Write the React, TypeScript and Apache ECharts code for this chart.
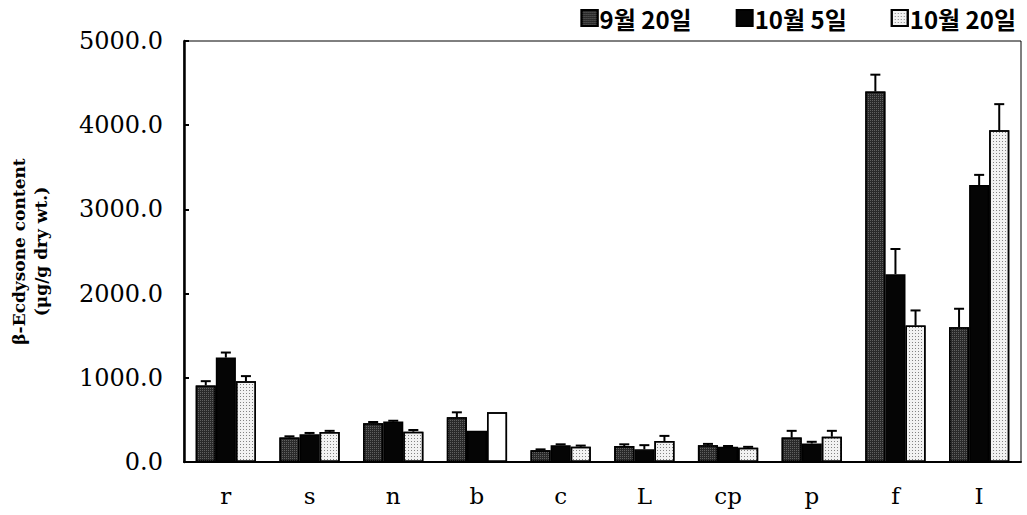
import React, { useEffect, useRef } from "react";
import * as echarts from "echarts";

const categories = ["r", "s", "n", "b", "c", "L", "cp", "p", "f", "I"];
const seriesNames = ["9월 20일", "10월 5일", "10월 20일"];
const sep20 = [910, 290, 460, 530, 140, 190, 200, 290, 4400, 1600];
const sep20Err = [50, 15, 15, 60, 10, 20, 15, 80, 200, 220];
const oct5 = [1240, 330, 480, 370, 200, 150, 180, 220, 2230, 3290];
const oct5Err = [60, 15, 10, 0, 10, 50, 10, 20, 300, 120];
const oct20 = [960, 355, 360, 590, 180, 250, 170, 300, 1620, 3940];
const oct20Err = [60, 15, 20, 0, 15, 60, 10, 70, 180, 310];
const yTicks = [0, 1000, 2000, 3000, 4000, 5000];

const GAP = 0.28;

export default function App() {
  const ref = useRef<HTMLDivElement>(null);
  useEffect(() => {
    document.body.style.margin = "0";
    const chart = echarts.init(ref.current!, null, { renderer: "svg" });
    const values = [sep20, oct5, oct20];
    const errs = [sep20Err, oct5Err, oct20Err];
    const serif = "DejaVu Serif";
    const dotDecal = {
      symbol: "rect",
      symbolSize: 1,
      color: "rgba(40,40,40,0.55)",
      dashArrayX: [1, 2],
      dashArrayY: [1, 2],
      rotation: 0,
    };
    const mottled = {
      symbol: "rect",
      symbolSize: 1,
      color: "rgba(120,120,120,0.7)",
      dashArrayX: [1, 1],
      dashArrayY: [1, 1],
      rotation: 0,
    };
    const styles = [
      { color: "#2a2a2a", borderColor: "#000", borderWidth: 1.5, decal: mottled },
      { color: "#050505", borderColor: "#000", borderWidth: 1.5 },
      { color: "#f2f2f2", borderColor: "#000", borderWidth: 1.5, decal: dotDecal },
    ];
    const barSeries = values.map((vals, si) => ({
      name: seriesNames[si],
      type: "bar",
      barGap: "0%",
      barCategoryGap: GAP * 100 + "%",
      itemStyle: styles[si],
      data: vals.map((v, i) => {
        if (si === 2 && i === 3) {
          return { value: v, itemStyle: { color: "#ffffff", decal: { symbol: "none" } } };
        }
        return v;
      }),
      z: 2,
    }));
    const errSeries = values.map((vals, si) => ({
      type: "custom",
      name: "err" + si,
      z: 3,
      silent: true,
      data: vals.map((v, i) => [i, v, errs[si][i]]),
      renderItem: (params: any, api: any) => {
        const idx = api.value(0);
        const v = api.value(1);
        const e = api.value(2);
        if (!e) return null;
        const band = api.size([1, 0])[0];
        const bw = (band * (1 - GAP)) / 3;
        const c0 = api.coord([idx, v]);
        const c1 = api.coord([idx, v + e]);
        const x = c0[0] + (si - 1) * bw;
        const capW = 5;
        return {
          type: "group",
          children: [
            {
              type: "line",
              shape: { x1: x, y1: c0[1], x2: x, y2: c1[1] },
              style: { stroke: "#000", lineWidth: 2 },
            },
            {
              type: "line",
              shape: { x1: x - capW, y1: c1[1], x2: x + capW, y2: c1[1] },
              style: { stroke: "#000", lineWidth: 2 },
            },
          ],
        };
      },
    }));
    chart.setOption({
      animation: false,
      backgroundColor: "#fff",
      grid: {
        left: 176,
        right: 6,
        top: 41,
        bottom: 53,
        show: true,
        borderColor: "#000",
        borderWidth: 1,
        backgroundColor: "transparent",
      },
      legend: {
        data: seriesNames,
        right: 6,
        top: 1,
        icon: "rect",
        itemWidth: 16,
        itemHeight: 16,
        itemGap: 44,
        textStyle: {
          fontFamily: "Noto Sans CJK KR",
          fontWeight: "bold",
          fontSize: 24,
          color: "#000",
          padding: [0, 0, 0, -3],
        },
      },
      xAxis: {
        type: "category",
        data: categories,
        axisLine: { lineStyle: { color: "#000", width: 2 } },
        axisTick: { inside: true, length: 7, lineStyle: { color: "#000", width: 2 } },
        axisLabel: {
          fontFamily: serif,
          fontSize: 23,
          color: "#000",
          margin: 22,
        },
      },
      yAxis: {
        type: "value",
        min: yTicks[0],
        max: yTicks[yTicks.length - 1],
        interval: 1000,
        name: "β-Ecdysone content\n(μg/g dry wt.)",
        nameLocation: "middle",
        nameGap: 132,
        nameTextStyle: {
          fontFamily: serif,
          fontWeight: "bold",
          fontSize: 17,
          color: "#000",
          lineHeight: 22,
        },
        splitLine: { show: false },
        axisLine: { show: true, lineStyle: { color: "#000", width: 2.5 } },
        axisTick: { show: true, inside: true, length: 5, lineStyle: { color: "#000", width: 2 } },
        axisLabel: {
          fontFamily: serif,
          fontSize: 24,
          color: "#000",
          margin: 21,
          formatter: (v: number) => v.toFixed(1),
        },
      },
      series: [...barSeries, ...errSeries],
    });
    return () => chart.dispose();
  }, []);
  return <div ref={ref} style={{ width: 1027, height: 515 }} />;
}
